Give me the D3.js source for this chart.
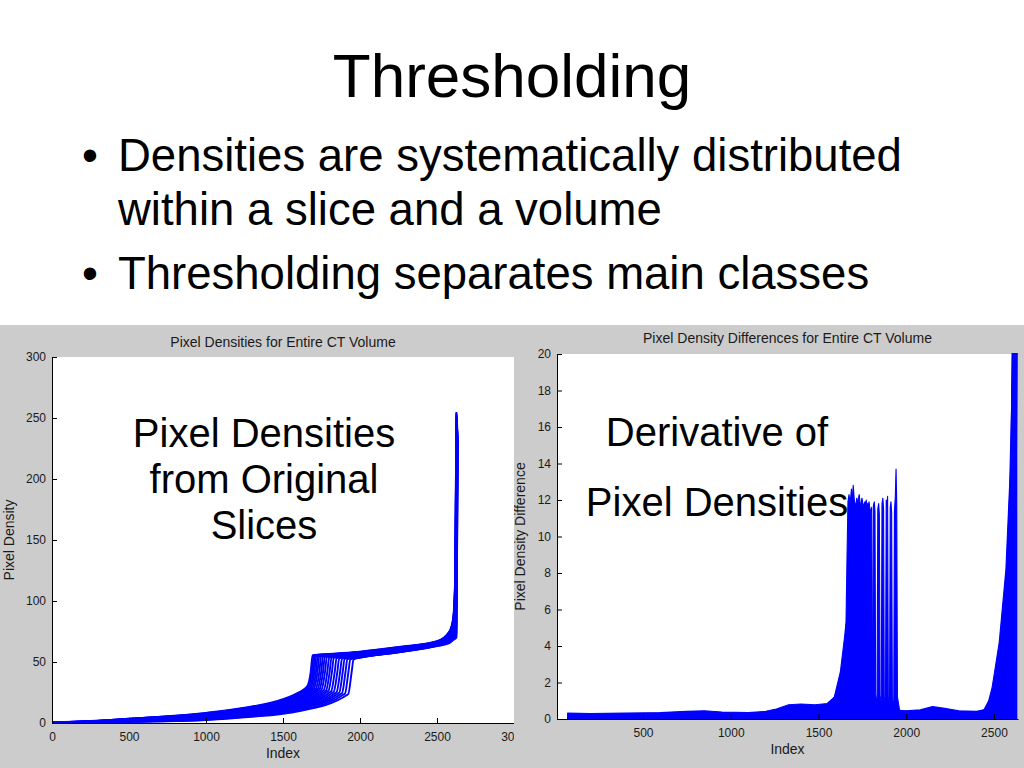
<!DOCTYPE html>
<html><head><meta charset="utf-8">
<script src="https://cdn.jsdelivr.net/npm/d3@7"></script>
<style>
body{margin:0;background:#fff;}
svg{display:block;font-family:"Liberation Sans",Arial,Helvetica,sans-serif;}
</style></head><body>
<svg id="c" width="1024" height="768"></svg>
<script>
// ---------- slide text ----------
const slideTitle = "Thresholding";
const bulletLines = [
  {bullet:true,  text:"Densities are systematically distributed"},
  {bullet:false, text:"within a slice and a volume"},
  {bullet:true,  text:"Thresholding separates main classes"}
];
const leftNote = ["Pixel Densities", "from Original", "Slices"];
const rightNote = ["Derivative of", "Pixel Densities"];

// ---------- left chart ----------
const leftTitle = "Pixel Densities for Entire CT Volume";
const leftYLabel = "Pixel Density";
const leftXLabel = "Index";
const leftXDomain = [0, 3000];
const leftYDomain = [0, 300];
const leftXTicks = [0, 500, 1000, 1500, 2000, 2500, 3000];
const leftYTicks = [0, 50, 100, 150, 200, 250, 300];
// sorted pixel densities, one curve per slice: [index, density]
const densityCurves = [
 [[0,0.5],[250,1.6],[500,3.6],[1000,8.3],[1250,12.5],[1500,19.5],[1600,25],[1657,30],[1680,42],[1692,55.5],[1850,57],[2000,58.5],[2250,62.3],[2500,67],[2580,75],[2605,86],[2618,120],[2626,255]],
 [[0,0.5],[250,1.5],[500,3.46],[1000,8.0],[1250,12.1],[1500,18.9],[1600,24.2],[1665,29.5],[1688,42],[1700,55.3],[1850,56.8],[2000,58.3],[2250,62.1],[2500,66.8],[2580,74.5],[2605,85],[2618,117],[2626,254]],
 [[0,0.4],[250,1.45],[500,3.32],[1000,7.7],[1250,11.7],[1500,18.2],[1600,23.4],[1673,29],[1696,42],[1708,55.1],[1850,56.5],[2000,58.0],[2250,61.8],[2500,66.6],[2580,74],[2605,84],[2618,115],[2627,253]],
 [[0,0.4],[250,1.35],[500,3.17],[1000,7.4],[1250,11.3],[1500,17.6],[1600,22.6],[1681,28.8],[1704,42],[1716,55],[1850,56.3],[2000,57.8],[2250,61.6],[2500,66.4],[2580,73.5],[2605,83],[2618,112],[2627,252]],
 [[0,0.3],[250,1.3],[500,3.03],[1000,7.1],[1250,10.9],[1500,17.0],[1600,21.8],[1691,28.5],[1714,42],[1726,54.9],[1850,56.1],[2000,57.6],[2250,61.4],[2500,66.2],[2580,73],[2605,82],[2619,110],[2628,251]],
 [[0,0.3],[250,1.2],[500,2.89],[1000,6.75],[1250,10.5],[1500,16.3],[1600,21.0],[1701,28.2],[1724,42],[1736,54.8],[1850,55.9],[2000,57.4],[2250,61.2],[2500,66],[2580,72.5],[2605,81],[2619,107],[2628,250]],
 [[0,0.3],[250,1.15],[500,2.75],[1000,6.44],[1250,10.1],[1500,15.7],[1600,20.1],[1713,28],[1736,42],[1748,54.7],[1850,55.6],[2000,57.1],[2250,60.9],[2500,65.8],[2580,72],[2605,80],[2620,104],[2629,249]],
 [[0,0.2],[250,1.1],[500,2.61],[1000,6.13],[1250,9.7],[1500,15.1],[1600,19.3],[1725,27.8],[1748,42],[1760,54.5],[1850,55.4],[2000,56.9],[2250,60.7],[2500,65.6],[2580,71.5],[2605,79],[2620,101],[2629,247]],
 [[0,0.2],[250,1.0],[500,2.46],[1000,5.82],[1250,9.3],[1500,14.4],[1600,18.5],[1737,27.5],[1760,42],[1772,54.3],[1900,55.6],[2000,56.7],[2250,60.5],[2500,65.4],[2580,71],[2605,78],[2621,98],[2630,246]],
 [[0,0.2],[250,0.95],[500,2.32],[1000,5.5],[1250,8.9],[1500,13.8],[1600,17.7],[1750,27.2],[1773,42],[1785,54.1],[1900,55.3],[2000,56.4],[2250,60.2],[2500,65.2],[2580,70.5],[2605,77],[2621,95],[2630,245]],
 [[0,0.1],[250,0.9],[500,2.18],[1000,5.2],[1250,8.5],[1500,13.2],[1600,16.9],[1765,27],[1788,42],[1800,53.9],[1900,55],[2000,56.1],[2250,59.9],[2500,65],[2580,70],[2605,76],[2622,92],[2631,244]],
 [[0,0.1],[250,0.8],[500,2.04],[1000,4.88],[1250,8.1],[1500,12.6],[1600,16.1],[1780,26.7],[1803,42],[1815,53.7],[1900,54.8],[2000,55.8],[2250,59.6],[2500,64.8],[2580,69.5],[2605,75],[2622,89],[2631,243]],
 [[0,0.1],[250,0.7],[500,1.89],[1000,4.57],[1250,7.6],[1500,11.9],[1600,15.3],[1795,26.4],[1818,42],[1830,53.5],[1950,55],[2000,55.5],[2250,59.3],[2500,64.6],[2580,69],[2605,74],[2623,86],[2632,241]],
 [[0,0.1],[250,0.65],[500,1.75],[1000,4.26],[1250,7.2],[1500,11.3],[1600,14.5],[1813,26],[1836,42],[1848,53.3],[1950,54.7],[2000,55.2],[2250,59.0],[2500,64.4],[2580,68.5],[2605,73],[2623,83],[2632,240]],
 [[0,0],[250,0.55],[500,1.61],[1000,3.95],[1250,6.8],[1500,10.7],[1600,13.7],[1830,25.6],[1853,42],[1865,53.1],[1950,54.4],[2000,54.9],[2250,58.7],[2500,64.2],[2580,68],[2605,72],[2624,80],[2633,239]],
 [[0,0],[250,0.5],[500,1.47],[1000,3.64],[1250,6.4],[1500,10.0],[1600,12.8],[1848,25.2],[1871,42],[1883,52.8],[1950,54],[2000,54.6],[2250,58.5],[2500,64],[2580,67.5],[2605,71],[2624,78],[2633,237]],
 [[0,0],[250,0.4],[500,1.33],[1000,3.33],[1250,5.9],[1500,9.4],[1600,12.0],[1865,24.8],[1888,42],[1900,52.6],[2000,54.3],[2250,58.3],[2500,63.8],[2580,67],[2605,70.5],[2625,76],[2634,236]],
 [[0,0],[250,0.35],[500,1.18],[1000,3.02],[1250,5.5],[1500,8.8],[1600,11.2],[1883,24.4],[1906,42],[1918,52.4],[2000,54.0],[2250,58.1],[2500,63.6],[2580,66.5],[2605,70],[2625,74],[2634,235]],
 [[0,0],[250,0.25],[500,1.04],[1000,2.71],[1250,5.1],[1500,8.1],[1600,10.4],[1902,24],[1925,42],[1937,52.2],[2000,53.8],[2250,58.0],[2500,63.3],[2580,66],[2605,69],[2626,72],[2635,233]],
 [[0,0],[250,0.2],[500,0.9],[1000,2.4],[1250,4.6],[1500,7.5],[1600,9.6],[1923,23.5],[1946,42],[1958,52],[2000,53.5],[2250,57.9],[2500,63],[2580,65.5],[2605,68],[2626,70],[2636,232]]
];

// ---------- right chart ----------
const rightTitle = "Pixel Density Differences for Entire CT Volume";
const rightYLabel = "Pixel Density Difference";
const rightXLabel = "Index";
const rightXDomain = [10, 2637];
const rightYDomain = [0, 20];
const rightXTicks = [500, 1000, 1500, 2000, 2500];
const rightYTicks = [0, 2, 4, 6, 8, 10, 12, 14, 16, 18, 20];
// density differences, one curve per slice: [index, difference]
const diffCurves = [
 [[68,0.32],[200,0.3],[400,0.32],[600,0.35],[750,0.42],[850,0.45],[950,0.38],[1100,0.36],[1200,0.42],[1260,0.55],[1330,0.78],[1400,0.82],[1480,0.78],[1550,0.85],[1590,1.2],[1625,2.6],[1650,4.6],[1657,5.3],[1662,8.5],[1668,11.9],[1674,12.3],[1680,11.8],[1688,12.6],[1694,12.0],[1700,11.6],[1708,6],[1718,1.8],[1740,0.8],[1800,0.6],[1900,0.5],[2000,0.45],[2080,0.5],[2150,0.68],[2220,0.58],[2300,0.45],[2400,0.42],[2443,0.5],[2470,1.0],[2489,1.7],[2530,4.2],[2568,8.2],[2590,13],[2600,17],[2606,22]],
 [[68,0.28],[200,0.26],[400,0.28],[600,0.3],[750,0.38],[850,0.4],[950,0.33],[1100,0.32],[1200,0.38],[1270,0.5],[1340,0.72],[1420,0.75],[1500,0.72],[1560,0.8],[1600,1.3],[1640,3],[1665,6],[1675,11.5],[1684,12.1],[1690,11.7],[1698,12.8],[1705,11.9],[1714,11.7],[1722,5],[1735,1.5],[1760,0.7],[1850,0.5],[2000,0.42],[2090,0.46],[2160,0.62],[2230,0.52],[2310,0.4],[2420,0.38],[2460,0.6],[2500,1.8],[2540,4.5],[2575,8.5],[2596,14],[2608,22]],
 [[68,0.25],[200,0.22],[400,0.25],[600,0.27],[750,0.34],[850,0.36],[950,0.3],[1100,0.28],[1200,0.33],[1280,0.45],[1350,0.66],[1430,0.7],[1510,0.66],[1570,0.75],[1620,1.4],[1660,3.5],[1685,7],[1693,11.6],[1702,12.0],[1710,11.5],[1718,12.1],[1726,11.8],[1734,11.4],[1742,4.5],[1755,1.3],[1780,0.65],[1880,0.45],[2000,0.38],[2100,0.42],[2150,0.56],[2240,0.47],[2320,0.36],[2430,0.35],[2470,0.55],[2510,1.6],[2548,4.2],[2582,8.3],[2600,13.5],[2611,22]],
 [[68,0.22],[200,0.2],[400,0.22],[600,0.24],[750,0.3],[850,0.32],[950,0.27],[1100,0.25],[1200,0.3],[1290,0.4],[1360,0.6],[1440,0.64],[1520,0.6],[1580,0.7],[1640,1.5],[1685,4],[1708,7.5],[1716,11.4],[1724,11.9],[1732,12.3],[1740,11.6],[1750,11.9],[1758,11.3],[1765,4],[1778,1.2],[1800,0.6],[1900,0.42],[2000,0.35],[2100,0.38],[2160,0.52],[2250,0.42],[2330,0.33],[2440,0.32],[2480,0.55],[2520,1.5],[2556,4],[2588,8.2],[2604,13],[2614,22]],
 [[68,0.19],[200,0.17],[400,0.19],[600,0.21],[750,0.27],[850,0.29],[950,0.24],[1100,0.22],[1200,0.27],[1300,0.35],[1370,0.54],[1450,0.58],[1530,0.55],[1590,0.65],[1660,1.4],[1710,4],[1732,8],[1740,11.7],[1748,12.1],[1756,11.6],[1764,11.9],[1772,11.5],[1780,11.8],[1787,4],[1798,1.1],[1820,0.55],[1920,0.4],[2000,0.33],[2100,0.35],[2150,0.48],[2260,0.38],[2340,0.3],[2450,0.3],[2490,0.5],[2530,1.5],[2563,4],[2593,8.1],[2607,12.5],[2617,22]],
 [[68,0.16],[200,0.14],[400,0.16],[600,0.18],[750,0.24],[850,0.26],[950,0.21],[1100,0.19],[1200,0.24],[1310,0.3],[1380,0.48],[1460,0.52],[1540,0.5],[1600,0.6],[1680,1.3],[1735,4],[1756,8],[1764,11.6],[1772,12.0],[1780,11.5],[1788,11.9],[1796,11.3],[1803,11.6],[1808,3],[1814,0.9],[1840,0.5],[1940,0.38],[2000,0.31],[2100,0.32],[2160,0.45],[2270,0.35],[2350,0.28],[2460,0.28],[2500,0.48],[2540,1.4],[2570,4],[2598,8],[2610,12],[2620,22]],
 [[68,0.13],[200,0.12],[400,0.13],[600,0.15],[750,0.2],[850,0.22],[950,0.18],[1100,0.16],[1200,0.2],[1320,0.26],[1390,0.42],[1470,0.46],[1550,0.44],[1610,0.55],[1680,0.9],[1740,0.8],[1790,0.9],[1809,1.1],[1813,11.7],[1818,11.9],[1822,11.4],[1826,1.4],[1837,0.6],[1870,0.45],[1960,0.35],[2000,0.29],[2100,0.3],[2150,0.42],[2280,0.32],[2360,0.26],[2470,0.26],[2510,0.45],[2550,1.3],[2577,4],[2602,8],[2613,12],[2623,22]],
 [[68,0.1],[200,0.09],[400,0.1],[600,0.12],[750,0.17],[850,0.19],[950,0.15],[1100,0.13],[1200,0.17],[1330,0.22],[1400,0.36],[1480,0.4],[1560,0.38],[1620,0.5],[1690,0.85],[1760,0.75],[1815,0.9],[1834,1.1],[1838,11.5],[1843,11.8],[1847,11.2],[1851,1.3],[1862,0.6],[1900,0.4],[2000,0.27],[2100,0.28],[2160,0.4],[2290,0.3],[2370,0.24],[2480,0.24],[2520,0.42],[2560,1.2],[2584,4],[2606,8],[2616,12],[2625,22]],
 [[68,0.08],[200,0.07],[400,0.08],[600,0.1],[750,0.14],[850,0.16],[950,0.12],[1100,0.11],[1200,0.14],[1340,0.18],[1410,0.3],[1490,0.34],[1570,0.32],[1630,0.45],[1700,0.8],[1780,0.7],[1840,0.85],[1858,1.0],[1862,11.8],[1867,12.1],[1871,11.5],[1875,1.2],[1886,0.55],[1930,0.35],[2000,0.25],[2100,0.26],[2150,0.37],[2300,0.28],[2380,0.22],[2490,0.22],[2530,0.4],[2568,1.2],[2590,4],[2609,8],[2619,12],[2627,22]],
 [[68,0.06],[200,0.05],[400,0.06],[600,0.08],[750,0.11],[850,0.13],[950,0.1],[1100,0.09],[1200,0.11],[1350,0.14],[1420,0.25],[1500,0.28],[1580,0.27],[1640,0.4],[1710,0.75],[1800,0.65],[1862,0.8],[1882,1.0],[1886,12.0],[1890,11.6],[1894,12.2],[1898,1.2],[1910,0.5],[1950,0.33],[2000,0.23],[2100,0.24],[2160,0.34],[2310,0.26],[2390,0.2],[2500,0.2],[2540,0.38],[2574,1.1],[2595,4],[2612,8],[2621,12],[2629,22]],
 [[68,0.04],[200,0.04],[400,0.04],[600,0.06],[750,0.09],[850,0.1],[950,0.08],[1100,0.07],[1200,0.09],[1360,0.11],[1430,0.2],[1510,0.23],[1590,0.22],[1650,0.35],[1720,0.7],[1820,0.6],[1885,0.8],[1905,1.0],[1909,11.6],[1913,11.9],[1917,11.3],[1921,1.1],[1932,0.5],[1970,0.32],[2000,0.22],[2100,0.22],[2150,0.31],[2320,0.24],[2400,0.18],[2510,0.18],[2550,0.35],[2580,1.05],[2599,4],[2614,8],[2623,12],[2631,22]],
 [[68,0.02],[200,0.02],[400,0.02],[600,0.04],[750,0.07],[850,0.08],[950,0.06],[1100,0.05],[1200,0.07],[1370,0.08],[1440,0.16],[1520,0.18],[1600,0.17],[1660,0.3],[1730,0.65],[1840,0.55],[1910,0.8],[1929,1.0],[1933,11.4],[1938,12.2],[1942,13.7],[1946,11.8],[1950,1.2],[1962,0.5],[1990,0.3],[2050,0.2],[2100,0.2],[2160,0.28],[2330,0.22],[2410,0.16],[2520,0.16],[2560,0.32],[2585,1.0],[2602,4],[2617,8],[2626,12],[2634,22]]
];

// ---------- drawing ----------
const svg = d3.select("#c");
const W = 1024, H = 768;
const gray = "#cccccc", blue = "#0000ff", ink = "#1a1a1a";
svg.append("rect").attr("width", W).attr("height", H).attr("fill", "#fff");

// slide title
svg.append("text").attr("x", 512).attr("y", 97).attr("text-anchor", "middle")
  .attr("font-size", 62).attr("fill", "#000").text(slideTitle);
const bulletY = [171, 225, 289];
bulletLines.forEach((b, i) => {
  if (b.bullet) svg.append("text").attr("x", 82).attr("y", bulletY[i])
    .attr("font-size", 45.5).attr("fill", "#000").text("\u2022");
  svg.append("text").attr("x", 118).attr("y", bulletY[i])
    .attr("font-size", 45.5).attr("fill", "#000").text(b.text);
});

// figure background
svg.append("rect").attr("x", 0).attr("y", 325).attr("width", W).attr("height", H - 325).attr("fill", gray);

const defs = svg.append("defs");
function clip(id, x, y, w, h) {
  defs.append("clipPath").attr("id", id).append("rect").attr("x", x).attr("y", y).attr("width", w).attr("height", h);
  return "url(#" + id + ")";
}

function panel(opts) {
  const g = svg.append("g").attr("clip-path", clip(opts.id + "-panel", opts.panel[0], 325, opts.panel[1] - opts.panel[0], H - 325));
  const x = d3.scaleLinear().domain(opts.xDomain).range([opts.left, opts.right]);
  const y = d3.scaleLinear().domain(opts.yDomain).range([opts.bottom, opts.top]);
  g.append("rect").attr("x", opts.left).attr("y", opts.top)
    .attr("width", opts.right - opts.left).attr("height", opts.bottom - opts.top).attr("fill", "#fff");
  const plot = g.append("g").attr("clip-path", clip(opts.id + "-plot", opts.left, opts.top - 1, opts.right - opts.left + 1, opts.bottom - opts.top + 1));
  if (opts.fill) {
    // dense, noisy traces read as a solid mass under each trace
    const area = d3.area().x(d => x(d[0])).y0(y(0)).y1(d => y(d[1])).curve(opts.curve);
    plot.selectAll("path.mass").data(opts.curves).join("path")
      .attr("class", "mass").attr("d", area).attr("fill", blue).attr("stroke", "none");
  }
  const line = d3.line().x(d => x(d[0])).y(d => y(d[1])).curve(opts.curve);
  plot.selectAll("path.series").data(opts.curves).join("path")
    .attr("class", "series").attr("d", line)
    .attr("fill", "none").attr("stroke", blue).attr("stroke-width", opts.sw).attr("stroke-linejoin", "round");

  const xa = g.append("g").attr("transform", `translate(0,${opts.bottom})`)
    .call(d3.axisBottom(x).tickValues(opts.xTicks).tickFormat(d3.format("d"))
      .tickSizeInner(-5).tickSizeOuter(0).tickPadding(opts.xPad));
  const ya = g.append("g").attr("transform", `translate(${opts.left},0)`)
    .call(d3.axisLeft(y).tickValues(opts.yTicks).tickFormat(d3.format("d"))
      .tickSizeInner(-5).tickSizeOuter(0).tickPadding(6));
  [xa, ya].forEach(a => {
    a.selectAll("path.domain").attr("stroke", "#000").attr("stroke-width", 1);
    a.selectAll(".tick line").attr("stroke", "#000");
    a.selectAll("text").attr("font-size", 12).attr("fill", ink)
      .attr("font-family", '"Liberation Sans",Arial,sans-serif');
  });
  const cx = (opts.left + opts.right) / 2, cy = (opts.top + opts.bottom) / 2;
  g.append("text").attr("x", cx).attr("y", opts.titleY).attr("text-anchor", "middle")
    .attr("font-size", 14).attr("fill", ink).text(opts.title);
  g.append("text").attr("x", cx).attr("y", opts.xLabelY).attr("text-anchor", "middle")
    .attr("font-size", 14).attr("fill", ink).text(opts.xLabel);
  g.append("text").attr("transform", `translate(${opts.yLabelX},${cy}) rotate(-90)`)
    .attr("text-anchor", "middle").attr("font-size", 14).attr("fill", ink).text(opts.yLabel);
}

panel({id: "L", panel: [0, 514], left: 52, right: 514, top: 357, bottom: 723,
  xDomain: leftXDomain, yDomain: leftYDomain, xTicks: leftXTicks, yTicks: leftYTicks,
  curves: densityCurves, curve: d3.curveMonotoneX, sw: 1.9, xPad: 9, fill: false,
  title: leftTitle, titleY: 347, xLabel: leftXLabel, xLabelY: 758, yLabel: leftYLabel, yLabelX: 14});

panel({id: "R", panel: [514, 1024], left: 557, right: 1018, top: 354, bottom: 719,
  xDomain: rightXDomain, yDomain: rightYDomain, xTicks: rightXTicks, yTicks: rightYTicks,
  curves: diffCurves, curve: d3.curveLinear, sw: 1.1, xPad: 9, fill: true,
  title: rightTitle, titleY: 343, xLabel: rightXLabel, xLabelY: 754, yLabel: rightYLabel, yLabelX: 525});

// overlay annotations
leftNote.forEach((t, i) => svg.append("text").attr("x", 264).attr("y", 447 + i * 46)
  .attr("text-anchor", "middle").attr("font-size", 40).attr("fill", "#000").text(t));
rightNote.forEach((t, i) => svg.append("text").attr("x", 717).attr("y", 446 + i * 70)
  .attr("text-anchor", "middle").attr("font-size", 40).attr("fill", "#000").text(t));
</script>
</body></html>
